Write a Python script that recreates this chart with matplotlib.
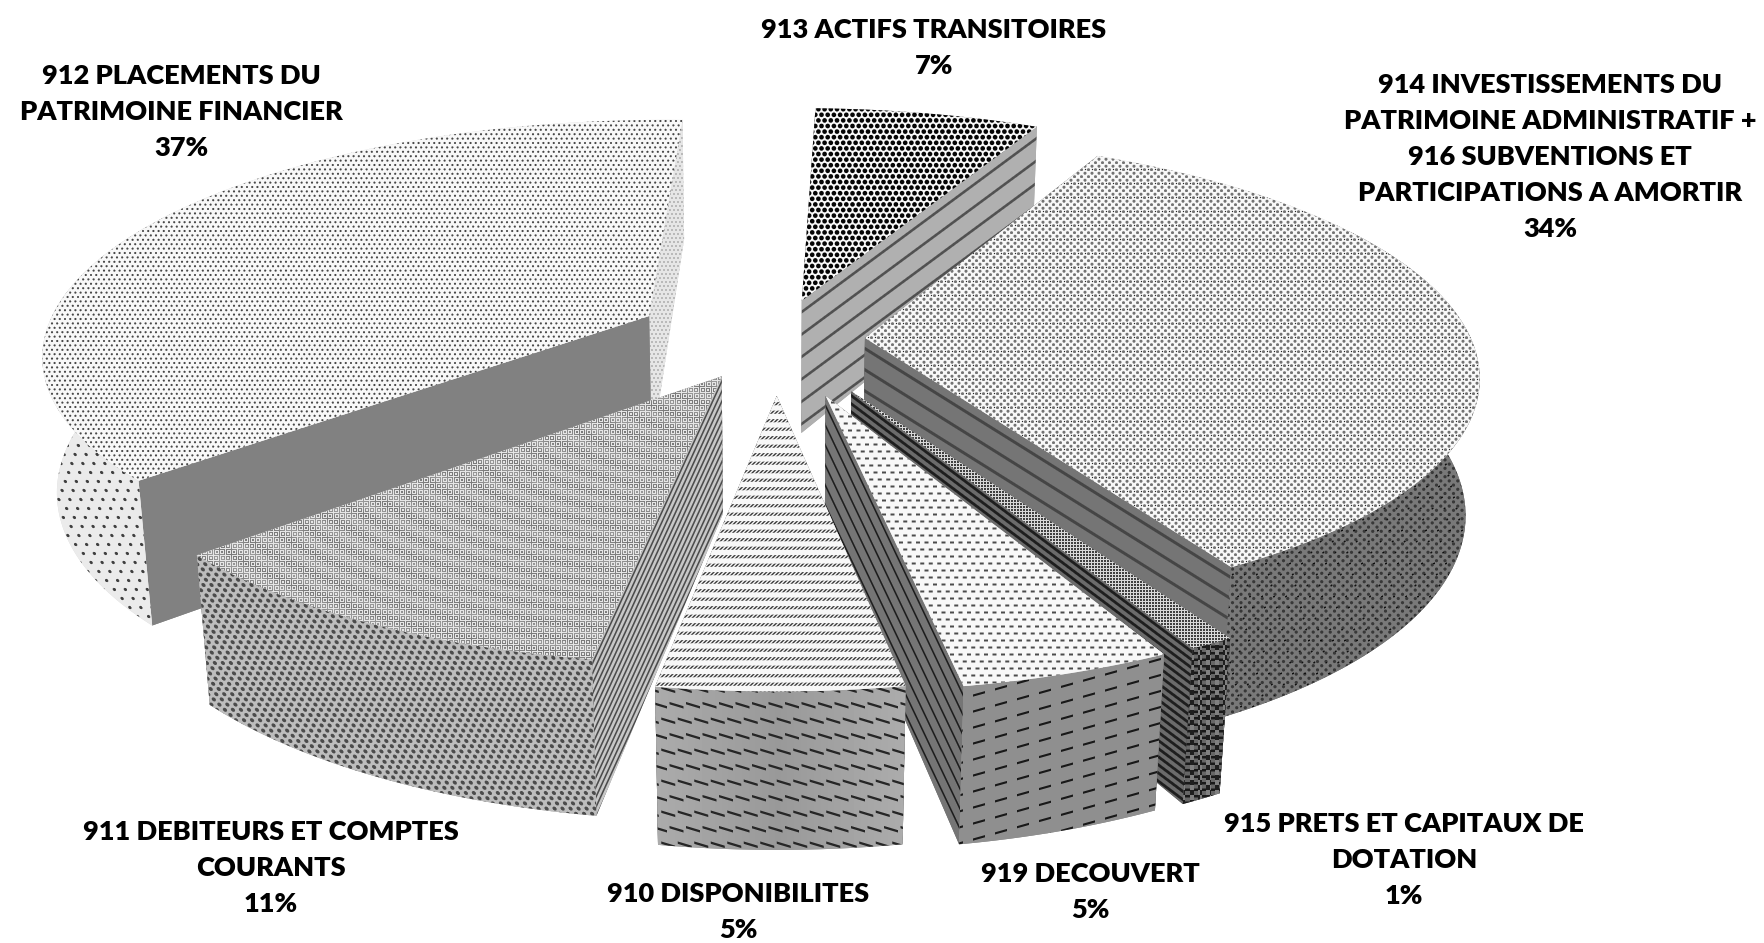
#!/bin/python3
import numpy as np
from matplotlib import pyplot as plt
from matplotlib.patches import Polygon

W, H = 1764, 943

# clockwise from the first slice
codes = ["910", "911", "912", "913", "914", "915", "919"]
names = ["910 DISPONIBILITES",
         "911 DEBITEURS ET COMPTES\nCOURANTS",
         "912 PLACEMENTS DU\nPATRIMOINE FINANCIER",
         "913 ACTIFS TRANSITOIRES",
         "914 INVESTISSEMENTS DU\nPATRIMOINE ADMINISTRATIF +\n916 SUBVENTIONS ET\nPARTICIPATIONS A AMORTIR",
         "915 PRETS ET CAPITAUX DE\nDOTATION",
         "919 DECOUVERT"]
# the labels are rounded, the slices are not
shares = [5.4, 10.9, 37.0, 7.0, 34.0, 1.0, 4.7]

# look of the pie
first_angle = -80.0
explode = dict(zip(codes, [0.237, 0.18, 0.235, 0.175, 0.147, 0.25, 0.25]))
label_pos = dict(zip(codes, [(738, 912), (271, 868), (181, 112), (934, 48),
                             (1550, 157), (1404, 860), (1090, 892)]))
draw_order = ["912", "913", "914", "911", "915", "919", "910"]

CX, CY = 776, 339
A, B, C = 606, 232, 135
K, K2, M = 0.15, 0.12, 0.02

layer = [1]


def project(u, v, z):
    w = 1 + K * v
    return CX + A * u / (w + M * z), CY - B * v / w + C * z / (1 + K2 * v)


def dots(X, Y, px, py, r, fg, bg, slant=0.0):
    row = np.floor(Y / py)
    xx = X + slant * Y + 0.5 * px * (row % 2)
    d = np.hypot((xx % px) - px / 2, (Y % py) - py / 2)
    return bg + (fg - bg) * np.clip(r + 0.5 - d, 0, 1)


def dashes(X, Y, px, py, ln, th, fg, bg, slope=0.0, stagger=0.5):
    row = np.floor(Y / py)
    xx = X + stagger * px * (row % 2)
    dx = (xx % px) - px / 2
    dy = (Y % py) - py / 2 - slope * dx
    a = np.clip(ln / 2 + 0.5 - np.abs(dx), 0, 1) * np.clip(th / 2 + 0.5 - np.abs(dy), 0, 1)
    return bg + (fg - bg) * a


def lines(X, Y, edge, period, th, fg, bg):
    (x0, y0), (x1, y1) = edge
    n = np.hypot(x1 - x0, y1 - y0)
    d = ((X - x0) * (y0 - y1) + (Y - y0) * (x1 - x0)) / n
    d = np.abs((d % period) - period / 2)
    return bg + (fg - bg) * np.clip(th / 2 + 0.5 - d, 0, 1)


def checks(X, Y, px, py, lo, hi):
    a = (np.floor(X / px) + np.floor(Y / py)) % 2
    return lo + (hi - lo) * a


def top_910(X, Y, e):
    band = np.clip(2.1 - np.abs((Y % 8.5) - 4.2), 0, 1)
    wig = 0.5 + 0.5 * np.sin(X * 1.55 + Y * 1.55)
    return 0.97 - 0.75 * band * wig


def side_910(X, Y, e):
    shade = 0.60 + 0.07 * np.abs(X - 778) / 120
    return dashes(X, Y, 16.5, 15.5, 14, 2.4, 0.15, shade, 0.3)


def top_919(X, Y, e):
    return dashes(X, Y, 8.5, 7, 4, 2, 0.3, 0.97)


def side_919(X, Y, e):
    return dashes(X, Y + 0.28 * X, 22, 16, 12, 2.2, 0.1, 0.56, 0.0, 0.0)


def cut_919(X, Y, e):
    return lines(X, Y, e, 8.6, 1.6, 0.12, 0.46)


def top_915(X, Y, e):
    return checks(X + Y, X - Y, 3, 3, 0.25, 0.85)


def side_915(X, Y, e):
    band = np.sin(X * 0.75) > 0
    flat = lines(X, Y, ((0, 0), (100, 0)), 6.5, 2.5, 0.1, 0.4)
    return np.where(band, checks(X, Y, 5, 5, 0.12, 0.5), flat)


def cut_915(X, Y, e):
    return lines(X, Y, e, 6.5, 2.8, 0.12, 0.42)


def top_914(X, Y, e):
    base = dots(X, Y, 7, 3.5, 1.5, 0.45, 0.97)
    return np.minimum(base, dots(X + 3, Y + 2, 7, 7, 0.6, 0.15, 0.97))


def side_914(X, Y, e):
    base = dots(X, Y, 8.5, 4.2, 1.6, 0.22, 0.48)
    return np.minimum(base, dots(X + 4, Y + 3, 12, 11, 1.1, 0.06, 0.6, 0.3))


def cut_914(X, Y, e):
    return lines(X, Y, e, 18, 3, 0.27, 0.46)


def top_913(X, Y, e):
    return dots(X, Y, 6.2, 5.6, 2.3, 0.02, 0.97)


def side_913(X, Y, e):
    return np.full_like(X, 0.69)


def cut_913(X, Y, e):
    return lines(X, Y, e, 18, 2.6, 0.32, 0.69)


def top_912(X, Y, e):
    return dots(X, Y, 5.2, 4.4, 1.05, 0.28, 0.97)


def side_912(X, Y, e):
    return dots(X, Y, 11, 9, 1.6, 0.25, 0.92, -0.25)


def cut_912a(X, Y, e):
    return np.full_like(X, 0.505)


def cut_912b(X, Y, e):
    return dots(X, Y, 4, 4, 0.9, 0.65, 0.9)


def top_911(X, Y, e):
    r = np.hypot(X - 725, (Y - 377) * 2.2)
    amp = 0.5 + 0.5 * np.cos(r / 5.0)
    lo = 0.6 - 0.12 * amp
    return checks(X + Y, X - Y, 2.4, 2.4, lo, 0.9)


def side_911(X, Y, e):
    return dots(X, Y, 8, 5.2, 2.0, 0.3, 0.74, -0.3)


def cut_911(X, Y, e):
    return lines(X, Y, e, 4.2, 1.6, 0.3, 0.78)


tops = {"910": top_910, "911": top_911, "912": top_912, "913": top_913,
        "914": top_914, "915": top_915, "919": top_919}
sides = {"910": side_910, "911": side_911, "912": side_912, "913": side_913,
         "914": side_914, "915": side_915, "919": side_919}
# cut faces: [at the start angle, at the end angle]
cuts = {"910": (cut_919, cut_919), "911": (cut_911, cut_911),
        "912": (cut_912a, cut_912b), "913": (cut_913, cut_913),
        "914": (cut_914, cut_914), "915": (cut_915, cut_915),
        "919": (cut_919, cut_919)}


def paint(ax, pts, tex, edge=None):
    pts = np.array(pts)
    X0, Y0 = np.floor(pts.min(axis=0)).astype(int) - 1
    X1, Y1 = np.ceil(pts.max(axis=0)).astype(int) + 1
    X, Y = np.meshgrid(np.arange(X0, X1) + 0.5, np.arange(Y0, Y1) + 0.5)
    img = tex(X, Y, edge)
    g = float(img.mean())
    poly = Polygon(pts, closed=True, facecolor=(g, g, g), edgecolor="none", zorder=layer[0])
    ax.add_patch(poly)
    im = ax.imshow(img, cmap="gray", vmin=0, vmax=1, extent=(X0, X1, Y1, Y0),
                   interpolation="nearest", aspect="auto", zorder=layer[0] + 1)
    im.set_clip_path(poly)
    layer[0] += 2


def draw_slice(ax, code, a1, a2):
    bis = np.radians((a1 + a2) / 2)
    e = explode[code]
    u0, v0 = e * np.cos(bis), e * np.sin(bis)
    t = np.radians(np.linspace(a1, a2, 200))
    u, v = u0 + np.cos(t), v0 + np.sin(t)

    top = list(zip(*project(u, v, 0)))
    tip_t = project(u0, v0, 0)
    tip_b = project(u0, v0, 1)
    low = list(zip(*project(u, v, 1)))

    faces = [([tip_t, top[0], low[0], tip_b], cuts[code][0], (tip_t, top[0])),
             ([tip_t, top[-1], low[-1], tip_b], cuts[code][1], (tip_t, top[-1]))]
    # far cut face first
    faces.sort(key=lambda f: f[0][1][1])
    for pts, tex, edge in faces:
        paint(ax, pts, tex, edge)
    # the far part of the rim would show over the cut faces, the rest ends under the top
    front = np.sin(t) < 0.5
    if front.sum() > 1:
        top_f = list(zip(*project(u[front], v[front], 0)))
        low_f = list(zip(*project(u[front], v[front], 1)))
        paint(ax, top_f + low_f[::-1], sides[code])
    paint(ax, [tip_t] + top, tops[code])


fig = plt.figure(figsize=(W / 100, H / 100), dpi=100)
ax = fig.add_axes([0, 0, 1, 1])

ends = first_angle - 3.6 * np.cumsum(shares)
starts = np.concatenate(([first_angle], ends[:-1]))
spans = {c: (s, f) for c, s, f in zip(codes, starts, ends)}

for code in draw_order:
    draw_slice(ax, code, *spans[code])

for code, name, share in zip(codes, names, shares):
    x, y = label_pos[code]
    ax.text(x, y, f"{name}\n{round(share)}%", ha="center", va="center", family="Lato",
            fontweight="heavy", fontsize=19.5, linespacing=1.6, color="black", zorder=1000)

ax.set_xlim(0, W)
ax.set_ylim(H, 0)
ax.axis("off")
fig.savefig("out.png", dpi=100, facecolor="white")
